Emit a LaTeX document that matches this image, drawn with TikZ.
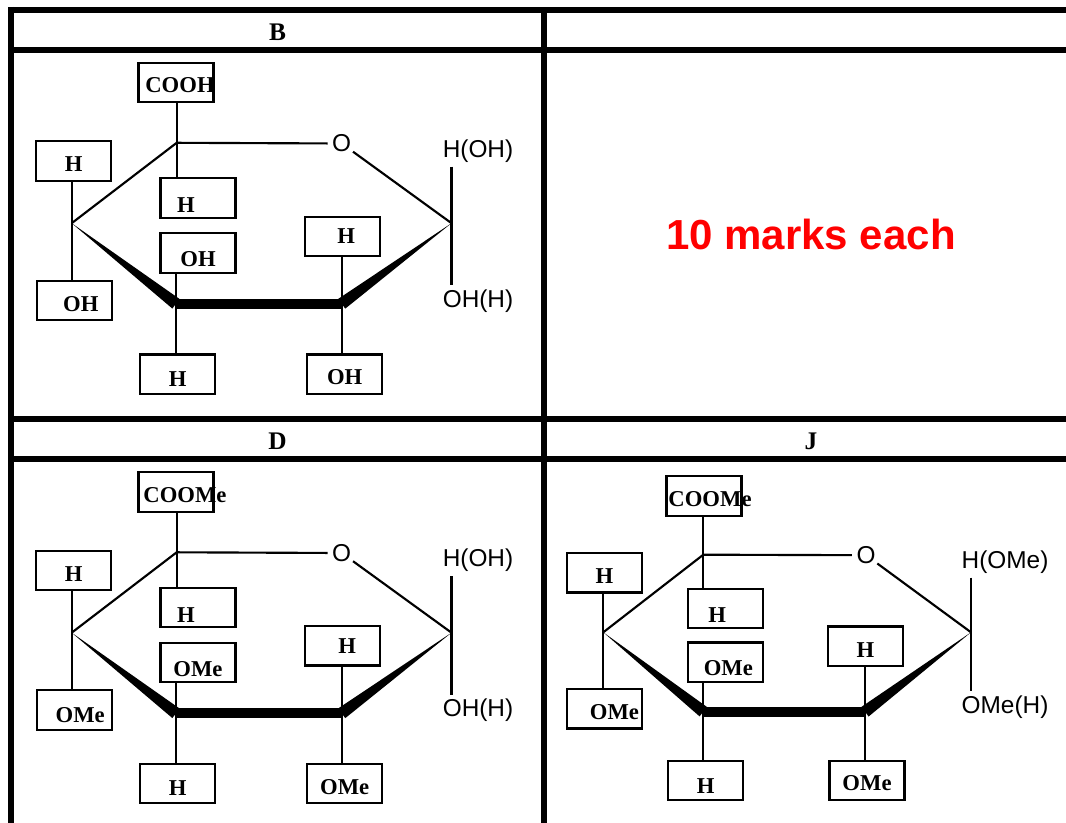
\documentclass[tikz,border=0pt]{standalone}
\usepackage{fontspec}
\setmainfont{Liberation Serif}
\newfontfamily\arialf{Liberation Sans}
\usetikzlibrary{calc}
% box text, moved sideways by half of #1, not widening the box
\newcommand{\gtxt}[2]{\makebox[0pt]{\hspace*{#1}#2}}

\begin{document}
\begin{tikzpicture}[x=0.75pt,y=-0.75pt,
	tabline/.style={line width=4.5pt},
	bond/.style={line width=1.6pt},
	ringbar/.style={line width=7.5pt},
	grp/.style={draw, line width=1.6pt, minimum width=56.25pt, minimum height=29.5pt, inner sep=0pt, text height=15.75pt, text depth=0pt, font=\fontsize{17}{20}\bfseries},
	hdr/.style={font=\fontsize{19}{22}\bfseries},
	lbl/.style={inner sep=3pt, font=\fontsize{18.3}{21}\arialf},
	ringO/.style={circle, inner sep=0.5pt, font=\fontsize{18.3}{21}\arialf}]
\useasboundingbox (0,0) rectangle (1066,823);

% table
\draw[tabline] (8,10) -- (1066,10);
\draw[tabline] (11,7) -- (11,823);
\draw[tabline] (544,10) -- (544,823);
\draw[tabline] (8,50) -- (1066,50);
\draw[tabline] (8,419) -- (1066,419);
\draw[tabline] (8,459) -- (1066,459);
\node[hdr] (hB) at (277.5,32) {B};
\node[hdr] (hD) at (277.5,441) {D};
\node[hdr] (hJ) at (811,441) {J};
\node[font=\fontsize{31.5}{34}\arialf\bfseries, text=red] (marks) at (811,234) {10 marks each};

% B
\coordinate (bc1) at (451.5,223.2);
\coordinate (bc2) at (341.7,303.8);
\coordinate (bc3) at (176,303.8);
\coordinate (bc4) at (71.7,223.2);
\coordinate (bc5) at (176.7,142.8);
\node[ringO] (bO) at (341.7,143.5) {O};
\node[grp] (bcooh) at (176,82.5) {\gtxt{6pt}{COOH}};
\node[grp] (b4up) at (73.7,161) {H};
\node[grp] (b4dn) at (74.2,300.5) {\gtxt{10pt}{OH}};
\node[grp, text height=22.5pt] (b5dn) at (198,198) {\gtxt{-18pt}{H}};
\node[grp, text height=21pt] (b3up) at (198,253) {OH};
\node[grp, text height=18pt] (b3dn) at (177.7,374.2) {H};
\node[grp, text height=11.5pt] (b2up) at (342.3,236.3) {\gtxt{6pt}{H}};
\node[grp] (b2dn) at (344.7,374.2) {OH};
\node[lbl, anchor=base] (b1up) at (478,157.2) {H(OH)};
\node[lbl, anchor=base] (b1dn) at (478,307.2) {OH(H)};

\draw[bond] (bc5) -- (bO) -- (bc1);
\draw[bond] (bc5) -- (bc4);
\fill (bc4) -- ($(bc3)!4.5pt!90:(bc4)$) -- ($(bc3)!4.5pt!-90:(bc4)$) -- cycle;
\draw[ringbar] (bc3) -- (bc2);
\fill (bc1) -- ($(bc2)!4.5pt!90:(bc1)$) -- ($(bc2)!4.5pt!-90:(bc1)$) -- cycle;
\draw[bond] (bc5 |- bcooh.south) -- (bc5) -- (bc5 |- b5dn.north);
\draw[bond] (bc4 |- b4up.south) -- (bc4) -- (bc4 |- b4dn.north);
\draw[bond] (bc3 |- b3up.south) -- (bc3) -- (bc3 |- b3dn.north);
\draw[bond] (bc2 |- b2up.south) -- (bc2) -- (bc2 |- b2dn.north);
\draw[bond] (bc1 |- b1up.south) -- (bc1 |- b1dn.north);

% D
\coordinate (dc1) at (451.5,632.7);
\coordinate (dc2) at (341.7,713.3);
\coordinate (dc3) at (176,713.3);
\coordinate (dc4) at (71.7,632.7);
\coordinate (dc5) at (176.7,552.3);
\node[ringO] (dO) at (341.7,553) {O};
\node[grp] (dcoome) at (176,492) {\gtxt{13.5pt}{COOMe}};
\node[grp] (d4up) at (73.7,570.5) {H};
\node[grp, text height=18pt] (d4dn) at (74.2,710) {\gtxt{9pt}{OMe}};
\node[grp, text height=22.5pt] (d5dn) at (198,607.5) {\gtxt{-18pt}{H}};
\node[grp, text height=21pt] (d3up) at (198,662.5) {OMe};
\node[grp, text height=18pt] (d3dn) at (177.7,783.7) {H};
\node[grp, text height=11.5pt] (d2up) at (342.3,645.8) {\gtxt{7.5pt}{H}};
\node[grp] (d2dn) at (344.7,783.7) {OMe};
\node[lbl, anchor=base] (d1up) at (478,566.7) {H(OH)};
\node[lbl, anchor=base] (d1dn) at (478,716.7) {OH(H)};

\draw[bond] (dc5) -- (dO) -- (dc1);
\draw[bond] (dc5) -- (dc4);
\fill (dc4) -- ($(dc3)!4.5pt!90:(dc4)$) -- ($(dc3)!4.5pt!-90:(dc4)$) -- cycle;
\draw[ringbar] (dc3) -- (dc2);
\fill (dc1) -- ($(dc2)!4.5pt!90:(dc1)$) -- ($(dc2)!4.5pt!-90:(dc1)$) -- cycle;
\draw[bond] (dc5 |- dcoome.south) -- (dc5) -- (dc5 |- d5dn.north);
\draw[bond] (dc4 |- d4up.south) -- (dc4) -- (dc4 |- d4dn.north);
\draw[bond] (dc3 |- d3up.south) -- (dc3) -- (dc3 |- d3dn.north);
\draw[bond] (dc2 |- d2up.south) -- (dc2) -- (dc2 |- d2dn.north);
\draw[bond] (dc1 |- d1up.south) -- (dc1 |- d1dn.north);

% J
\coordinate (jc1) at (971,632.3);
\coordinate (jc2) at (865,711.7);
\coordinate (jc3) at (703.3,711.7);
\coordinate (jc4) at (603.3,632.3);
\coordinate (jc5) at (703.3,554.7);
\node[ringO] (jO) at (866,555.2) {O};
\node[grp] (jcoome) at (704,496) {\gtxt{9pt}{COOMe}};
\node[grp] (j4up) at (604.5,572.8) {H};
\node[grp] (j4dn) at (604.5,708.8) {\gtxt{15pt}{OMe}};
\node[grp, text height=20.5pt] (j5dn) at (725.3,608.7) {\gtxt{-12pt}{H}};
\node[grp, text height=19.5pt] (j3up) at (725.3,662.2) {\gtxt{4.5pt}{OMe}};
\node[grp, text height=19.5pt] (j3dn) at (705.8,780.3) {H};
\node[grp, text height=17pt] (j2up) at (865.5,646.2) {H};
\node[grp] (j2dn) at (867,780.3) {OMe};
\node[lbl, anchor=base] (j1up) at (1005,568.3) {H(OMe)};
\node[lbl, anchor=base] (j1dn) at (1005,713.3) {OMe(H)};

\draw[bond] (jc5) -- (jO) -- (jc1);
\draw[bond] (jc5) -- (jc4);
\fill (jc4) -- ($(jc3)!4.5pt!90:(jc4)$) -- ($(jc3)!4.5pt!-90:(jc4)$) -- cycle;
\draw[ringbar] (jc3) -- (jc2);
\fill (jc1) -- ($(jc2)!4.5pt!90:(jc1)$) -- ($(jc2)!4.5pt!-90:(jc1)$) -- cycle;
\draw[bond] (jc5 |- jcoome.south) -- (jc5) -- (jc5 |- j5dn.north);
\draw[bond] (jc4 |- j4up.south) -- (jc4) -- (jc4 |- j4dn.north);
\draw[bond] (jc3 |- j3up.south) -- (jc3) -- (jc3 |- j3dn.north);
\draw[bond] (jc2 |- j2up.south) -- (jc2) -- (jc2 |- j2dn.north);
\draw[bond] (jc1 |- j1up.south) -- (jc1 |- j1dn.north);

\end{tikzpicture}
\end{document}
